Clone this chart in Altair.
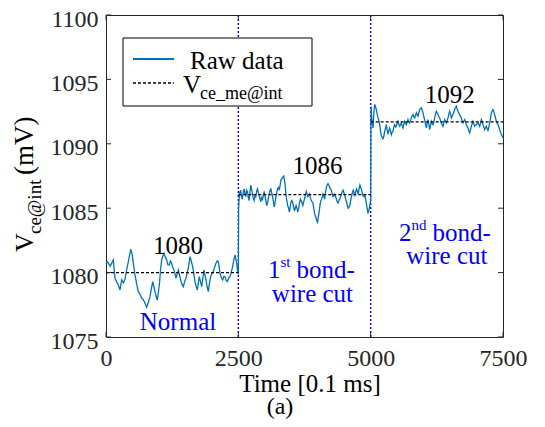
import altair as alt
import pandas as pd

# ---------------- data ----------------
t_seg1 = [0, 25, 80, 138, 170, 200, 233, 264, 296, 330, 359, 390, 430, 466, 490, 516, 548, 580, 611, 645,
          674, 705, 737, 768, 800, 831, 860, 882, 905, 926, 950, 970, 990, 1008, 1030, 1052, 1075, 1096, 1120, 1146,
          1170, 1196, 1218, 1240, 1262, 1284, 1305, 1322, 1345, 1366, 1390, 1410, 1435, 1461, 1485, 1511, 1535, 1555, 1587, 1610,
          1637, 1660, 1681, 1705, 1725, 1745, 1763, 1785, 1807, 1830, 1851, 1870, 1889, 1910, 1933, 1955, 1977, 2000, 2027, 2050,
          2078, 2100, 2122, 2140, 2153, 2180, 2204, 2225, 2248, 2270, 2292, 2320, 2342, 2370, 2393, 2415, 2437, 2455, 2468, 2490, 2500]
v_seg1 = [1080.8, 1080.85, 1080.5, 1080.98, 1079.56, 1079.3, 1079.04, 1078.65, 1079.43, 1079.2, 1079.5, 1080.21, 1081.0, 1081.81, 1081.5, 1080.73, 1079.82, 1079.1, 1078.52, 1078.3,
          1078.01, 1077.9, 1077.62, 1077.31, 1077.7, 1078.13, 1078.8, 1079.3, 1078.9, 1078.52, 1078.1, 1077.88, 1078.5, 1079.04, 1080.2, 1080.98, 1081.3, 1081.5, 1081.2, 1080.98,
          1080.6, 1080.6, 1080.9, 1080.73, 1080.4, 1080.21, 1079.9, 1079.56, 1079.9, 1080.21, 1079.8, 1079.43, 1079.1, 1078.91, 1079.3, 1079.56, 1080.0, 1080.34, 1081.24, 1080.9,
          1080.47, 1079.9, 1079.3, 1078.9, 1078.65, 1079.2, 1079.69, 1079.3, 1078.91, 1079.6, 1080.21, 1079.8, 1079.43, 1078.9, 1078.52, 1079.2, 1079.69, 1079.9, 1080.08, 1080.4,
          1080.73, 1080.9, 1080.85, 1080.4, 1079.95, 1079.6, 1079.43, 1079.7, 1079.69, 1079.4, 1079.3, 1079.6, 1079.69, 1080.1, 1080.47, 1081.0, 1081.37, 1081.0, 1080.73, 1080.0, 1079.95]

t_seg2 = [2505, 2513, 2525, 2544, 2560, 2576, 2590, 2608, 2625, 2640, 2655, 2671, 2690, 2703, 2720, 2735, 2750, 2766, 2780, 2798,
          2815, 2830, 2845, 2862, 2878, 2893, 2910, 2925, 2940, 2957, 2972, 2989, 3005, 3020, 3035, 3052, 3068, 3084, 3100, 3115,
          3130, 3147, 3163, 3179, 3195, 3211, 3226, 3242, 3258, 3274, 3290, 3306, 3322, 3338, 3357, 3370, 3382, 3401, 3415, 3433,
          3450, 3464, 3480, 3496, 3512, 3528, 3545, 3560, 3575, 3591, 3607, 3623, 3640, 3655, 3672, 3687, 3703, 3718, 3735, 3750,
          3766, 3782, 3798, 3813, 3830, 3845, 3861, 3877, 3893, 3909, 3925, 3940, 3956, 3972, 3985, 3997, 4010, 4023, 4035, 4048,
          4061, 4074, 4087, 4099, 4115, 4131, 4146, 4162, 4178, 4194, 4210, 4226, 4242, 4258, 4273, 4289, 4305, 4321, 4337, 4353,
          4368, 4384, 4400, 4416, 4432, 4448, 4464, 4480, 4495, 4511, 4527, 4543, 4559, 4575, 4591, 4607, 4622, 4638, 4654, 4670,
          4686, 4702, 4718, 4734, 4750, 4765, 4781, 4797, 4813, 4829, 4845, 4860, 4876, 4892, 4908, 4924, 4937, 4949, 4962, 4975, 4990, 5000]
v_seg2 = [1085.0, 1085.6, 1086.2, 1086.4, 1085.9, 1085.7, 1086.2, 1086.5, 1086.1, 1085.9, 1086.4, 1086.3, 1085.8, 1085.6, 1086.3, 1086.8, 1086.5, 1086.1, 1085.8, 1085.6,
          1086.0, 1085.9, 1086.3, 1086.5, 1086.2, 1086.0, 1085.7, 1085.5, 1085.9, 1085.7, 1086.0, 1086.3, 1085.9, 1085.6, 1085.2, 1085.4, 1085.8, 1086.1, 1086.4, 1086.5,
          1086.2, 1085.9, 1085.5, 1085.1, 1085.5, 1085.9, 1086.2, 1086.5, 1086.6, 1086.4, 1086.8, 1087.2, 1087.3, 1087.4, 1087.5, 1087.2, 1086.9, 1086.0, 1085.6, 1085.2,
          1085.0, 1084.7, 1085.1, 1085.5, 1085.6, 1085.4, 1085.1, 1084.8, 1085.0, 1085.2, 1085.0, 1084.7, 1085.0, 1085.4, 1085.7, 1085.6, 1085.4, 1085.2, 1085.5, 1085.7,
          1086.0, 1086.3, 1086.1, 1085.9, 1086.0, 1086.1, 1085.8, 1085.6, 1085.5, 1085.4, 1085.0, 1084.6, 1084.4, 1084.2, 1084.0, 1083.9, 1084.3, 1084.6, 1085.0, 1085.4,
          1085.6, 1085.7, 1085.9, 1086.1, 1085.9, 1085.7, 1086.2, 1086.6, 1086.8, 1086.9, 1086.8, 1086.6, 1086.5, 1086.4, 1086.1, 1085.9, 1086.0, 1086.1, 1085.9, 1085.7,
          1085.5, 1085.4, 1085.6, 1085.7, 1085.9, 1086.1, 1086.3, 1086.4, 1086.2, 1086.0, 1085.7, 1085.5, 1085.2, 1085.0, 1085.1, 1085.2, 1085.6, 1085.9, 1086.2, 1086.4,
          1086.2, 1086.0, 1086.3, 1086.5, 1086.3, 1086.1, 1086.5, 1086.8, 1086.6, 1086.4, 1086.1, 1085.9, 1085.9, 1086.0, 1085.6, 1085.2, 1084.9, 1084.6, 1084.8, 1085.0, 1085.4, 1085.6]

t_seg3 = [5005, 5010, 5019, 5030, 5044, 5060, 5076, 5090, 5107, 5123, 5139, 5155, 5170, 5186, 5202, 5218, 5233, 5250, 5264, 5280,
          5296, 5310, 5327, 5342, 5359, 5375, 5390, 5405, 5422, 5437, 5453, 5470, 5485, 5500, 5516, 5532, 5548, 5563, 5579, 5595,
          5611, 5626, 5642, 5658, 5674, 5690, 5705, 5720, 5737, 5752, 5768, 5785, 5800, 5815, 5831, 5848, 5863, 5880, 5894, 5910,
          5926, 5942, 5957, 5973, 5989, 6005, 6020, 6036, 6052, 6068, 6083, 6100, 6115, 6130, 6146, 6162, 6178, 6194, 6209, 6225,
          6240, 6256, 6272, 6288, 6303, 6320, 6335, 6350, 6366, 6382, 6398, 6414, 6429, 6445, 6461, 6477, 6492, 6508, 6524, 6540,
          6555, 6570, 6587, 6602, 6618, 6634, 6650, 6665, 6681, 6697, 6713, 6728, 6744, 6760, 6776, 6792, 6807, 6823, 6839, 6855,
          6870, 6886, 6902, 6918, 6933, 6950, 6965, 6980, 6996, 7012, 7028, 7044, 7059, 7075, 7091, 7106, 7122, 7138, 7154, 7170,
          7185, 7200, 7217, 7232, 7248, 7264, 7280, 7295, 7311, 7327, 7343, 7358, 7374, 7390, 7406, 7421, 7437, 7453, 7469, 7485, 7500]
v_seg3 = [1091.5, 1092.9, 1092.0, 1091.6, 1091.23, 1092.4, 1093.05, 1092.9, 1092.66, 1092.3, 1092.01, 1091.8, 1091.49, 1091.0, 1090.6, 1090.5, 1090.4, 1090.6, 1090.98, 1091.2,
          1091.49, 1091.1, 1090.75, 1091.0, 1091.23, 1091.0, 1090.72, 1090.9, 1090.98, 1091.3, 1091.49, 1091.3, 1091.36, 1091.6, 1091.75, 1091.5, 1091.36, 1091.5, 1091.62, 1091.4,
          1091.23, 1091.5, 1091.75, 1091.6, 1091.49, 1091.7, 1091.88, 1091.7, 1091.62, 1091.8, 1092.01, 1092.2, 1092.27, 1092.1, 1092.01, 1092.2, 1092.4, 1092.25, 1092.14, 1092.4,
          1092.66, 1092.75, 1092.79, 1092.6, 1092.4, 1092.1, 1091.88, 1091.5, 1091.23, 1091.6, 1091.88, 1091.5, 1091.1, 1091.4, 1091.75, 1091.6, 1091.49, 1091.7, 1092.01, 1092.3,
          1092.53, 1092.4, 1092.27, 1092.1, 1092.01, 1091.8, 1091.62, 1091.5, 1091.36, 1091.6, 1091.88, 1091.75, 1091.62, 1091.8, 1092.01, 1092.3, 1092.53, 1092.3, 1092.01, 1092.15,
          1092.27, 1092.45, 1092.66, 1092.8, 1092.92, 1092.7, 1092.53, 1092.4, 1092.27, 1092.1, 1092.01, 1091.8, 1091.62, 1091.75, 1091.88, 1091.7, 1091.49, 1091.35, 1091.23, 1091.0,
          1090.85, 1091.1, 1091.36, 1091.55, 1091.75, 1091.55, 1091.36, 1091.45, 1091.49, 1091.55, 1091.62, 1091.5, 1091.36, 1091.6, 1091.88, 1091.7, 1091.49, 1091.3, 1091.1, 1091.25,
          1091.36, 1091.2, 1090.98, 1091.3, 1091.62, 1092.0, 1092.4, 1092.55, 1092.66, 1092.5, 1092.27, 1092.0, 1091.75, 1091.6, 1091.49, 1091.3, 1091.1, 1090.9, 1090.72, 1090.6, 1090.46]

mean_start = [0, 2500, 5000]
mean_end = [2500, 5000, 7500]
mean_value = [1080.0, 1086.05, 1091.7]
cut_times = [2500, 5000]
x_ticks = [0, 2500, 5000, 7500]
y_ticks = [1075, 1080, 1085, 1090, 1095, 1100]

level_labels = ["1080", "1086", "1092"]
level_t = [1360, 3996, 6493]
level_v = [1082.1, 1088.3, 1093.8]

stage_labels = ["Normal", "wire cut", "wire cut"]
stage_t = [1360, 3900, 6440]
stage_v = [1076.2, 1078.3, 1081.3]

# ---------------- chart ----------------
W, H = 397, 322
FONT = "Liberation Serif"
LINE_BLUE = "#0072BD"
TXT_BLUE = "#0000FF"
GREY = "#262626"

raw = pd.DataFrame({"t": t_seg1 + t_seg2 + t_seg3, "v": v_seg1 + v_seg2 + v_seg3})
means = pd.DataFrame({"s": mean_start, "e": mean_end, "v": mean_value})
cuts = pd.DataFrame({"t": cut_times})
levels = pd.DataFrame({"label": level_labels, "t": level_t, "v": level_v})
stages = pd.DataFrame({"label": stage_labels, "t": stage_t, "v": stage_v})
xt = pd.DataFrame({"t": x_ticks})
yt = pd.DataFrame({"v": y_ticks})
one = pd.DataFrame({"k": [0]})

xs = alt.Scale(domain=[0, 7500], nice=False, zero=False)
ys = alt.Scale(domain=[1075, 1100], nice=False, zero=False)
xax = alt.Axis(values=x_ticks, title=None, grid=False, ticks=False, domain=False,
               labelFont=FONT, labelFontSize=24, labelColor=GREY, labelPadding=9,
               labelFlush=False, format="d")
yax = alt.Axis(values=y_ticks, title=None, grid=False, ticks=False, domain=False,
               labelFont=FONT, labelFontSize=24, labelColor=GREY, labelPadding=8,
               labelOffset=4, format="d")


def X(f):
    return alt.X(f, type="quantitative", scale=xs, axis=xax)


def Y(f):
    return alt.Y(f, type="quantitative", scale=ys, axis=yax)


cut_rules = alt.Chart(cuts).mark_rule(color=TXT_BLUE, strokeDash=[2, 2], strokeWidth=1.4).encode(x=X("t"))

line = alt.Chart(raw).mark_line(color=LINE_BLUE, strokeWidth=1.3).encode(x=X("t"), y=Y("v"))

mean_rules = alt.Chart(means).mark_rule(color="black", strokeDash=[3, 2], strokeWidth=1.3).encode(
    x=X("s"), x2="e", y=Y("v"))

level_text = alt.Chart(levels).mark_text(font=FONT, fontSize=25, color="black", baseline="middle").encode(
    x=X("t"), y=Y("v"), text="label:N")
stage_text = alt.Chart(stages).mark_text(font=FONT, fontSize=25, color=TXT_BLUE, baseline="middle").encode(
    x=X("t"), y=Y("v"), text="label:N")


def sup_label(big, sup, t, v, sup_w):
    d = pd.DataFrame({"t": [t], "v": [v]})
    base = alt.Chart(d).encode(x=X("t"), y=Y("v"))
    a = base.mark_text(text=big, font=FONT, fontSize=25, color=TXT_BLUE, align="left", baseline="middle")
    b = base.mark_text(text=sup, font=FONT, fontSize=15, color=TXT_BLUE, align="left", baseline="middle",
                       dx=12.5, dy=-8)
    c = base.mark_text(text="bond-", font=FONT, fontSize=25, color=TXT_BLUE, align="left", baseline="middle",
                       dx=12.5 + sup_w + 6)
    return [a, b, c]


sup1 = sup_label("1", "st", 3060, 1080.2, 10)
sup2 = sup_label("2", "nd", 5535, 1083.1, 15)

# inward ticks on all four sides
tk = 5
yt_l = alt.Chart(yt).mark_rule(color=GREY, strokeWidth=1).encode(y=Y("v"), x=alt.value(0), x2=alt.value(tk))
yt_r = alt.Chart(yt).mark_rule(color=GREY, strokeWidth=1).encode(y=Y("v"), x=alt.value(W - tk), x2=alt.value(W))
xt_b = alt.Chart(xt).mark_rule(color=GREY, strokeWidth=1).encode(x=X("t"), y=alt.value(H - tk), y2=alt.value(H))
xt_t = alt.Chart(xt).mark_rule(color=GREY, strokeWidth=1).encode(x=X("t"), y=alt.value(0), y2=alt.value(tk))

# legend (drawn by hand)
leg_box = alt.Chart(one).mark_rect(fill="white", stroke="black", strokeWidth=1).encode(
    x=alt.value(17), x2=alt.value(206), y=alt.value(23), y2=alt.value(91))
leg_l1 = alt.Chart(one).mark_rule(color=LINE_BLUE, strokeWidth=2).encode(
    x=alt.value(27), x2=alt.value(68), y=alt.value(44))
leg_l2 = alt.Chart(one).mark_rule(color="black", strokeDash=[3, 2], strokeWidth=1.6).encode(
    x=alt.value(27), x2=alt.value(68), y=alt.value(68))
leg_t1 = alt.Chart(one).mark_text(text="Raw data", font=FONT, fontSize=25, align="left", baseline="middle",
                                  color="black").encode(x=alt.value(84), y=alt.value(46))
leg_t2 = alt.Chart(one).mark_text(text="V", font=FONT, fontSize=25, align="left", baseline="alphabetic",
                                  color="black").encode(x=alt.value(77), y=alt.value(78))
leg_t3 = alt.Chart(one).mark_text(text="ce_me@int", font=FONT, fontSize=18, align="left", baseline="alphabetic",
                                  color="black").encode(x=alt.value(94), y=alt.value(84))

# axis titles (with subscript) drawn as text
yt1 = alt.Chart(one).mark_text(text="V", font=FONT, fontSize=26, angle=270, align="left", baseline="alphabetic",
                               color="black").encode(x=alt.value(-73), y=alt.value(237))
yt2 = alt.Chart(one).mark_text(text="ce@int", font=FONT, fontSize=19, angle=270, align="left", baseline="alphabetic",
                               color="black").encode(x=alt.value(-65), y=alt.value(219))
yt3 = alt.Chart(one).mark_text(text="(mV)", font=FONT, fontSize=27, angle=270, align="left", baseline="alphabetic",
                               color="black").encode(x=alt.value(-73), y=alt.value(160))
xt1 = alt.Chart(one).mark_text(text="Time [0.1 ms]", font=FONT, fontSize=25, align="center", baseline="middle",
                               color="black").encode(x=alt.value(204), y=alt.value(369))
xt2 = alt.Chart(one).mark_text(text="(a)", font=FONT, fontSize=24, align="center", baseline="middle",
                               color="black").encode(x=alt.value(174), y=alt.value(392))

chart = alt.layer(
    cut_rules, line, mean_rules, level_text, stage_text, *sup1, *sup2,
    yt_l, yt_r, xt_b, xt_t,
    leg_box, leg_l1, leg_l2, leg_t1, leg_t2, leg_t3,
    yt1, yt2, yt3, xt1, xt2,
).properties(
    width=W, height=H,
    padding={"left": 98, "top": 7, "right": 34, "bottom": 82},
    autosize=alt.AutoSizeParams(type="none"),
    background="white",
).configure_view(stroke=GREY, strokeWidth=1)

chart.save("out.html", embed_options={"renderer": "svg", "actions": False})
